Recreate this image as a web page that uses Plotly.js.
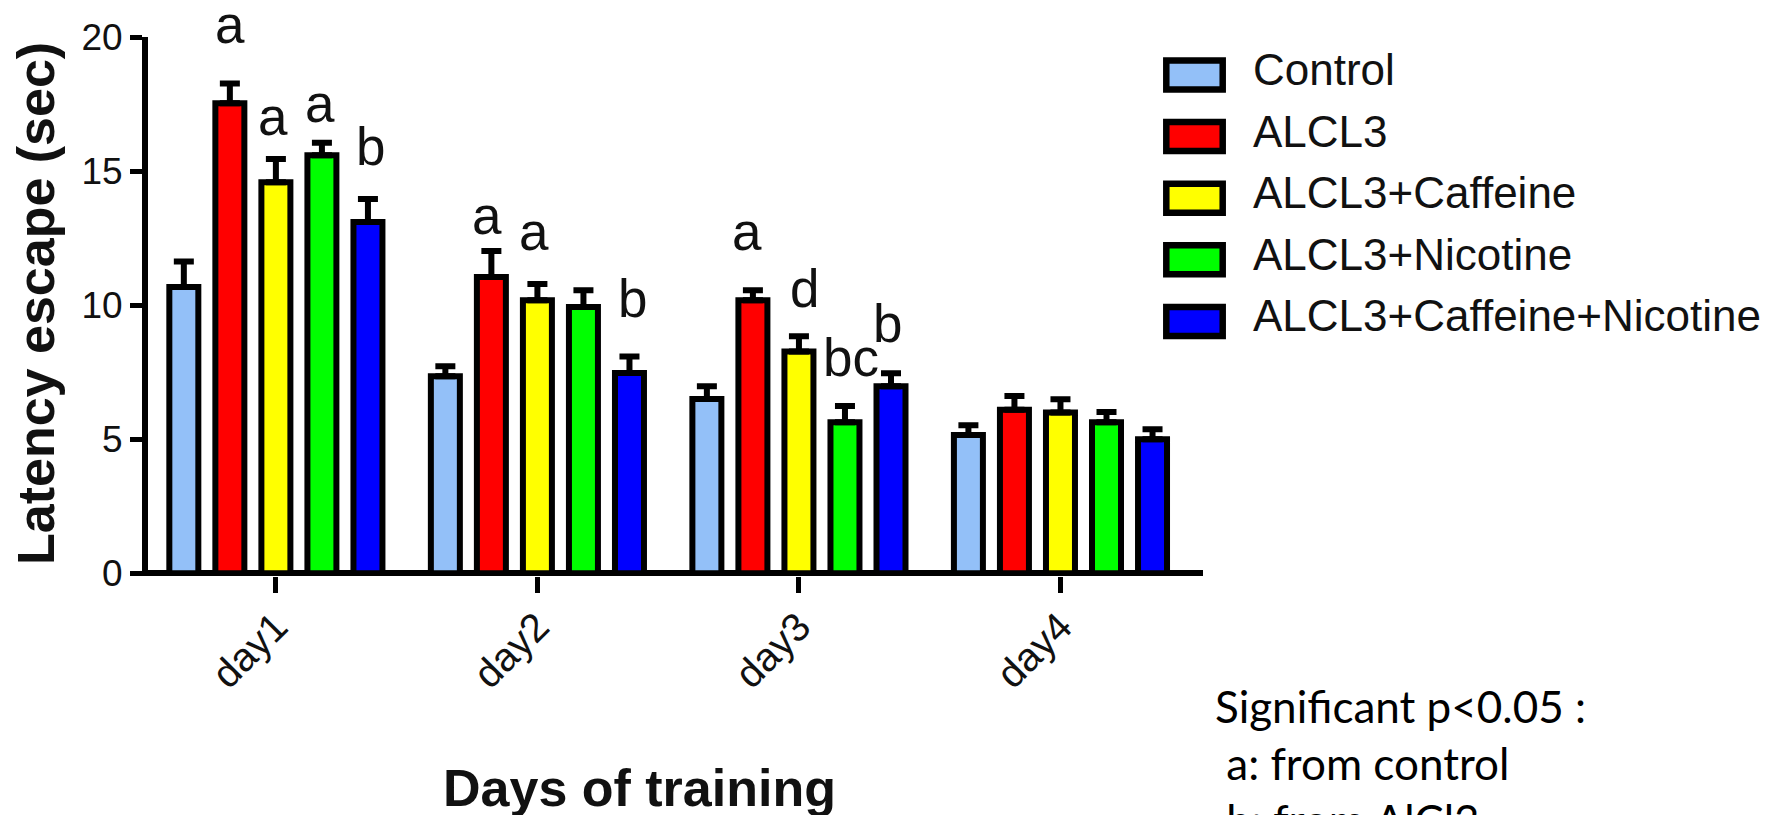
<!DOCTYPE html>
<html>
<head>
<meta charset="utf-8">
<script src="https://cdn.plot.ly/plotly-3.0.1.min.js"></script>
<style>
  html, body { margin: 0; padding: 0; background: #ffffff; overflow: hidden; }
  #chart { width: 1769px; height: 815px; }
</style>
</head>
<body>
<div id="chart"></div>
<script>
// ---- data: escape latency (sec), mean and SEM per training day ----
const days = ['day1', 'day2', 'day3', 'day4'];
const groupNames = ['Control', 'ALCL3', 'ALCL3+Caffeine', 'ALCL3+Nicotine', 'ALCL3+Caffeine+Nicotine'];
const groupColors = ['#93c0f8', '#ff0000', '#ffff00', '#00ff00', '#0000ff'];

const controlMean  = [10.68, 7.35, 6.50, 5.16];
const controlSem   = [0.95, 0.37, 0.48, 0.36];
const alcl3Mean    = [17.53, 11.05, 10.18, 6.10];
const alcl3Sem     = [0.74, 0.97, 0.38, 0.51];
const caffeineMean = [14.58, 10.18, 8.27, 6.00];
const caffeineSem  = [0.87, 0.61, 0.57, 0.49];
const nicotineMean = [15.59, 9.93, 5.63, 5.63];
const nicotineSem  = [0.47, 0.63, 0.61, 0.39];
const comboMean    = [13.10, 7.47, 6.98, 5.00];
const comboSem     = [0.86, 0.62, 0.48, 0.37];

// significance letters above each bar
const controlSig  = ['', '', '', ''];
const alcl3Sig    = ['a', 'a', 'a', ''];
const caffeineSig = ['a', 'a', 'd', ''];
const nicotineSig = ['a', '', 'bc', ''];
const comboSig    = ['b', 'b', 'b', ''];

const noteLines = ['Significant p<0.05 :', ' a: from control', ' b: from AlCl3'];

const means = [controlMean, alcl3Mean, caffeineMean, nicotineMean, comboMean];
const sems  = [controlSem, alcl3Sem, caffeineSem, nicotineSem, comboSem];
const sigs  = [controlSig, alcl3Sig, caffeineSig, nicotineSig, comboSig];

// ---- page geometry ----
const W = 1769, H = 815;
const M = { l: 148, r: 566, t: 37, b: 239 };
const plotW = W - M.l - M.r, plotH = H - M.t - M.b;
const px = x => (x - M.l) / plotW;        // page px -> paper x
const py = y => 1 - (y - M.t) / plotH;    // page px -> paper y

const BARGAP = 0.12;
const slot = (1 - BARGAP) / groupNames.length;

const arial = 'Liberation Sans, Arial, sans-serif';
const ink = '#111111';

// ---- bars with upper SEM whiskers ----
const traces = groupNames.map((name, s) => ({
  type: 'bar',
  name: name,
  x: days,
  y: means[s],
  marker: { color: groupColors[s], line: { color: '#000000', width: 6 } },
  error_y: {
    type: 'data', symmetric: false, array: sems[s],
    arrayminus: sems[s].map(() => 0),
    color: '#000000', thickness: 6, width: 10
  },
  showlegend: false,
  hoverinfo: 'x+y+name'
}));

// label placement: [horizontal nudge px, lift above whisker cap px]
const sigPlacement = {
  '1,0': [0, 40], '2,0': [-3, 24.4], '3,0': [-2, 21], '4,0': [3, 34.4],
  '1,1': [-4, 16.5], '2,1': [-3, 34], '4,1': [3, 39.7],
  '1,2': [-6, 40], '2,2': [6, 29.6], '3,2': [6, 30], '4,2': [-4, 31]
};

const annotations = [];
sigs.forEach((row, s) => {
  row.forEach((txt, d) => {
    if (!txt) return;
    const p = sigPlacement[s + ',' + d] || [0, 25];
    annotations.push({
      xref: 'x', yref: 'y',
      x: d + (s - (groupNames.length - 1) / 2) * slot,
      y: means[s][d] + sems[s][d],
      text: txt, showarrow: false,
      xanchor: 'center', yanchor: 'bottom',
      xshift: p[0], yshift: p[1] - 13,
      font: { family: arial, size: 53, color: ink }
    });
  });
});

// axis titles
annotations.push({
  xref: 'paper', yref: 'paper', x: px(36), y: py(304),
  text: 'Latency escape (sec)', textangle: -90, showarrow: false,
  xanchor: 'center', yanchor: 'middle',
  font: { family: arial, size: 52, color: ink, weight: 'bold' }
});
annotations.push({
  xref: 'paper', yref: 'paper', x: px(639), y: py(788),
  text: 'Days of training', showarrow: false,
  xanchor: 'center', yanchor: 'middle',
  font: { family: arial, size: 52, color: ink, weight: 'bold' }
});

// legend: boxed swatches with labels
const shapes = [];
const legendRow0 = 75, legendStep = 61.6;
groupNames.forEach((name, s) => {
  const cy = legendRow0 + s * legendStep;
  shapes.push({
    type: 'rect', xref: 'paper', yref: 'paper',
    x0: px(1166.3), x1: px(1222.7), y0: py(cy + 14.5), y1: py(cy - 14.5),
    fillcolor: groupColors[s], line: { color: '#000000', width: 6.5 }
  });
  annotations.push({
    xref: 'paper', yref: 'paper', x: px(1251), y: py(cy - 5.5),
    text: name, showarrow: false, xanchor: 'left', yanchor: 'middle',
    font: { family: arial, size: 44, color: ink }
  });
});

// significance note in the lower right
annotations.push({
  xref: 'paper', yref: 'paper', x: px(1213), y: py(678),
  text: noteLines.join('<br>'), showarrow: false, align: 'left',
  xanchor: 'left', yanchor: 'top',
  font: { family: 'Lato, Open Sans, sans-serif', size: 44, color: '#000000' }
});

const layout = {
  width: W, height: H,
  margin: M,
  paper_bgcolor: '#ffffff', plot_bgcolor: '#ffffff',
  barmode: 'group', bargap: BARGAP, bargroupgap: 0.37,
  showlegend: false,
  xaxis: {
    type: 'category', range: [-0.489, 3.545],
    showline: false, showgrid: false, zeroline: false,
    ticks: 'outside', ticklen: 16, tickwidth: 5, tickcolor: '#000000',
    tickangle: -45, ticklabelstandoff: -6,
    tickfont: { family: arial, size: 40, color: ink }
  },
  yaxis: {
    range: [-0.1, 20], dtick: 5, tick0: 0,
    showline: true, linewidth: 6, linecolor: '#000000',
    showgrid: false,
    zeroline: true, zerolinewidth: 6, zerolinecolor: '#000000',
    ticks: 'outside', ticklen: 12, tickwidth: 5, tickcolor: '#000000',
    tickfont: { family: arial, size: 37, color: ink }
  },
  annotations: annotations,
  shapes: shapes
};

Plotly.newPlot('chart', traces, layout, { displayModeBar: false, staticPlot: true });
</script>
</body>
</html>
